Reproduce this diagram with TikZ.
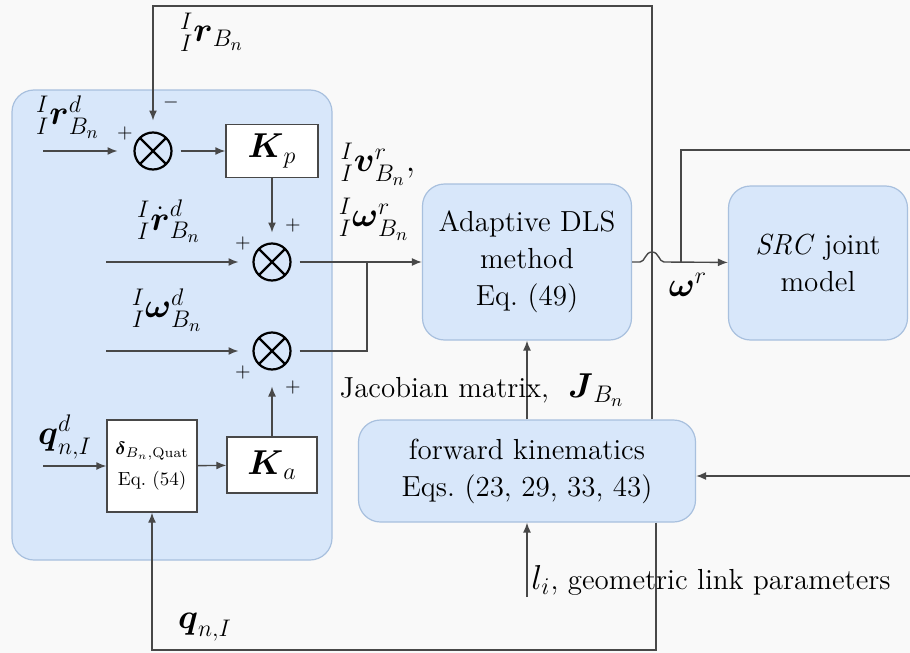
\documentclass[tikz,border=0pt]{standalone}
\usepackage{amsmath,amssymb}
\usetikzlibrary{arrows.meta}

\definecolor{bgc}{RGB}{249,249,249}
\definecolor{boxfill}{RGB}{216,231,250}
\definecolor{boxline}{RGB}{168,192,222}
\definecolor{wirec}{RGB}{72,72,72}

\tikzset{
  wire/.style={draw=wirec, line width=0.7pt},
  arr/.style={wire, -{Latex[length=5pt,width=4pt]}},
  bluebox/.style={draw=boxline, fill=boxfill, line width=0.6pt, rounded corners=11pt,
    align=center, font=\fontsize{14.5}{18.5}\selectfont, inner sep=0pt},
  gainbox/.style={draw=wirec, fill=white, line width=0.7pt, inner sep=0pt,
    font=\fontsize{18}{21}\selectfont},
  sumnode/.style={circle, draw=black, line width=1.1pt, minimum size=18.5pt,
    inner sep=0pt, outer sep=0pt},
  lbl/.style={inner sep=0pt, font=\fontsize{18}{21}\selectfont},
  txt/.style={inner sep=0pt, font=\fontsize{14.5}{18.5}\selectfont},
  sgn/.style={inner sep=0pt, font=\fontsize{10}{12}\selectfont},
}

\newcommand{\crosssum}[1]{%
  \draw[line width=1.1pt] (#1.north west) -- (#1.south east)
                          (#1.north east) -- (#1.south west);}

\begin{document}
\begin{tikzpicture}[x=0.5pt,y=-0.5pt]
  % canvas
  \fill[bgc] (0,0) rectangle (910,653);
  \useasboundingbox (0,0) rectangle (910,653);

  % controller panel
  \node[draw=boxline, fill=boxfill, line width=0.6pt, rounded corners=11pt,
        minimum width=160pt, minimum height=235pt, inner sep=0pt]
        (panel) at (172,325) {};

  % summing junctions
  \node[sumnode] (s1) at (153,151) {};
  \node[sumnode] (s2) at (272,262) {};
  \node[sumnode] (s3) at (272,351) {};
  \crosssum{s1}\crosssum{s2}\crosssum{s3}

  % gain and error blocks
  \node[gainbox, minimum width=46pt, minimum height=26.5pt] (kp) at (272,151) {$\boldsymbol{K}_{p}$};
  \node[gainbox, minimum width=45pt, minimum height=28pt] (ka) at (272,465) {$\boldsymbol{K}_{a}$};
  \node[gainbox, minimum width=45pt, minimum height=46pt, align=center,
        font=\fontsize{9.5}{15.5}\selectfont] (delta) at (152,466)
        {$\boldsymbol{\delta}_{B_n,\mathrm{Quat}}$\\Eq.~(54)};

  % main blocks
  \node[bluebox, minimum width=104.5pt, minimum height=78pt] (dls) at (527,262)
        {Adaptive DLS\\method\\Eq.~(49)};
  \node[bluebox, minimum width=89.5pt, minimum height=77pt] (src) at (818,263)
        {\textit{SRC} joint\\model};
  \node[bluebox, minimum width=168.5pt, minimum height=51pt] (fk) at (527,471)
        {forward kinematics\\Eqs.~(23, 29, 33, 43)};

  % free ends and bends
  \coordinate (rdin) at (43,151);
  \coordinate (rddin) at (106,262);
  \coordinate (wdin) at (106,351);
  \coordinate (qdin) at (43,466);
  \coordinate (j3) at (367,351);
  \coordinate (j2) at (367,262);
  \coordinate (tR) at (652,6);
  \coordinate (tL) at (153,6);
  \coordinate (bR) at (656,650);
  \coordinate (bL) at (152,650);
  \coordinate (rin) at (910,476);
  \coordinate (jw) at (681,262);
  \coordinate (wup) at (681,150);
  \coordinate (wout) at (910,150);
  \coordinate (lin) at (527,597);
  \coordinate (hop) at (652,262);

  % connectors inside the panel
  \draw[arr, shorten >=8.5pt] (rdin) -- (s1);
  \draw[arr, shorten <=4.5pt] (s1) -- (kp);
  \draw[arr, shorten >=5.5pt] (kp) -- (s2);
  \draw[arr, shorten >=7.5pt] (rddin) -- (s2);
  \draw[arr, shorten >=7.5pt] (wdin) -- (s3);
  \draw[arr, shorten >=8.5pt] (ka) -- (s3);
  \draw[arr] (qdin) -- (delta);
  \draw[arr] (delta) -- (ka);

  % reference velocities to the DLS block
  \draw[arr, shorten <=4.5pt] (s2) -- (dls);
  \draw[wire, shorten <=4.5pt] (s3) -- (j3) -- (j2);

  % DLS output, hopping over the feedback wire
  \draw[arr] (dls.east) -- ([xshift=-6pt]hop)
      .. controls ([xshift=-3.5pt]hop) and ([xshift=-3.5pt,yshift=5pt]hop) .. ([yshift=5pt]hop)
      .. controls ([xshift=3.5pt,yshift=5pt]hop) and ([xshift=3.5pt]hop) .. ([xshift=6pt]hop)
      -- (src);
  \draw[wire] (jw) -- (wup) -- (wout);

  % feedback paths
  \draw[arr, shorten >=6pt] (tR |- fk.north) -- (tR) -- (tL) -- (s1);
  \draw[arr] (bR |- fk.south) -- (bR) -- (bL) -- (delta);
  \draw[arr] (rin) -- (rin -| fk.east);
  \draw[arr] (fk.north) -- (dls.south);
  \draw[arr] (lin) -- (fk);

  % signal labels
  \node[lbl] (l1) at (212,32) {${}^{I}_{I}\boldsymbol{r}_{B_n}$};
  \node[lbl] (l2) at (68,117) {${}^{I}_{I}\boldsymbol{r}^{d}_{B_n}$};
  \node[lbl] (l3) at (169,221) {${}^{I}_{I}\dot{\boldsymbol{r}}^{d}_{B_n}$};
  \node[lbl] (l4) at (167,310) {${}^{I}_{I}\boldsymbol{\omega}^{d}_{B_n}$};
  \node[lbl] (l5) at (378,164) {${}^{I}_{I}\boldsymbol{v}^{r}_{B_n},$};
  \node[lbl] (l6) at (374,219) {${}^{I}_{I}\boldsymbol{\omega}^{r}_{B_n}$};
  \node[lbl] (l7) at (65,437) {$\boldsymbol{q}^{d}_{n,I}$};
  \node[lbl] (l8) at (205,627) {$\boldsymbol{q}_{n,I}$};
  \node[txt] (l9) at (482,390) {Jacobian matrix,~ {\fontsize{18}{21}\selectfont$\boldsymbol{J}_{B_n}$}};
  \node[lbl] (l10) at (688,285) {$\boldsymbol{\omega}^{r}$};
  \node[txt, anchor=west] (l11) at (531,580) {{\fontsize{18}{21}\selectfont$l_i$}, geometric link parameters};

  % signs at the junctions
  \node[sgn] at (125,133) {$+$};
  \node[sgn] at (171,102) {$-$};
  \node[sgn] at (293,225) {$+$};
  \node[sgn] at (243,243) {$+$};
  \node[sgn] at (243,372) {$+$};
  \node[sgn] at (293,387) {$+$};
\end{tikzpicture}
\end{document}
